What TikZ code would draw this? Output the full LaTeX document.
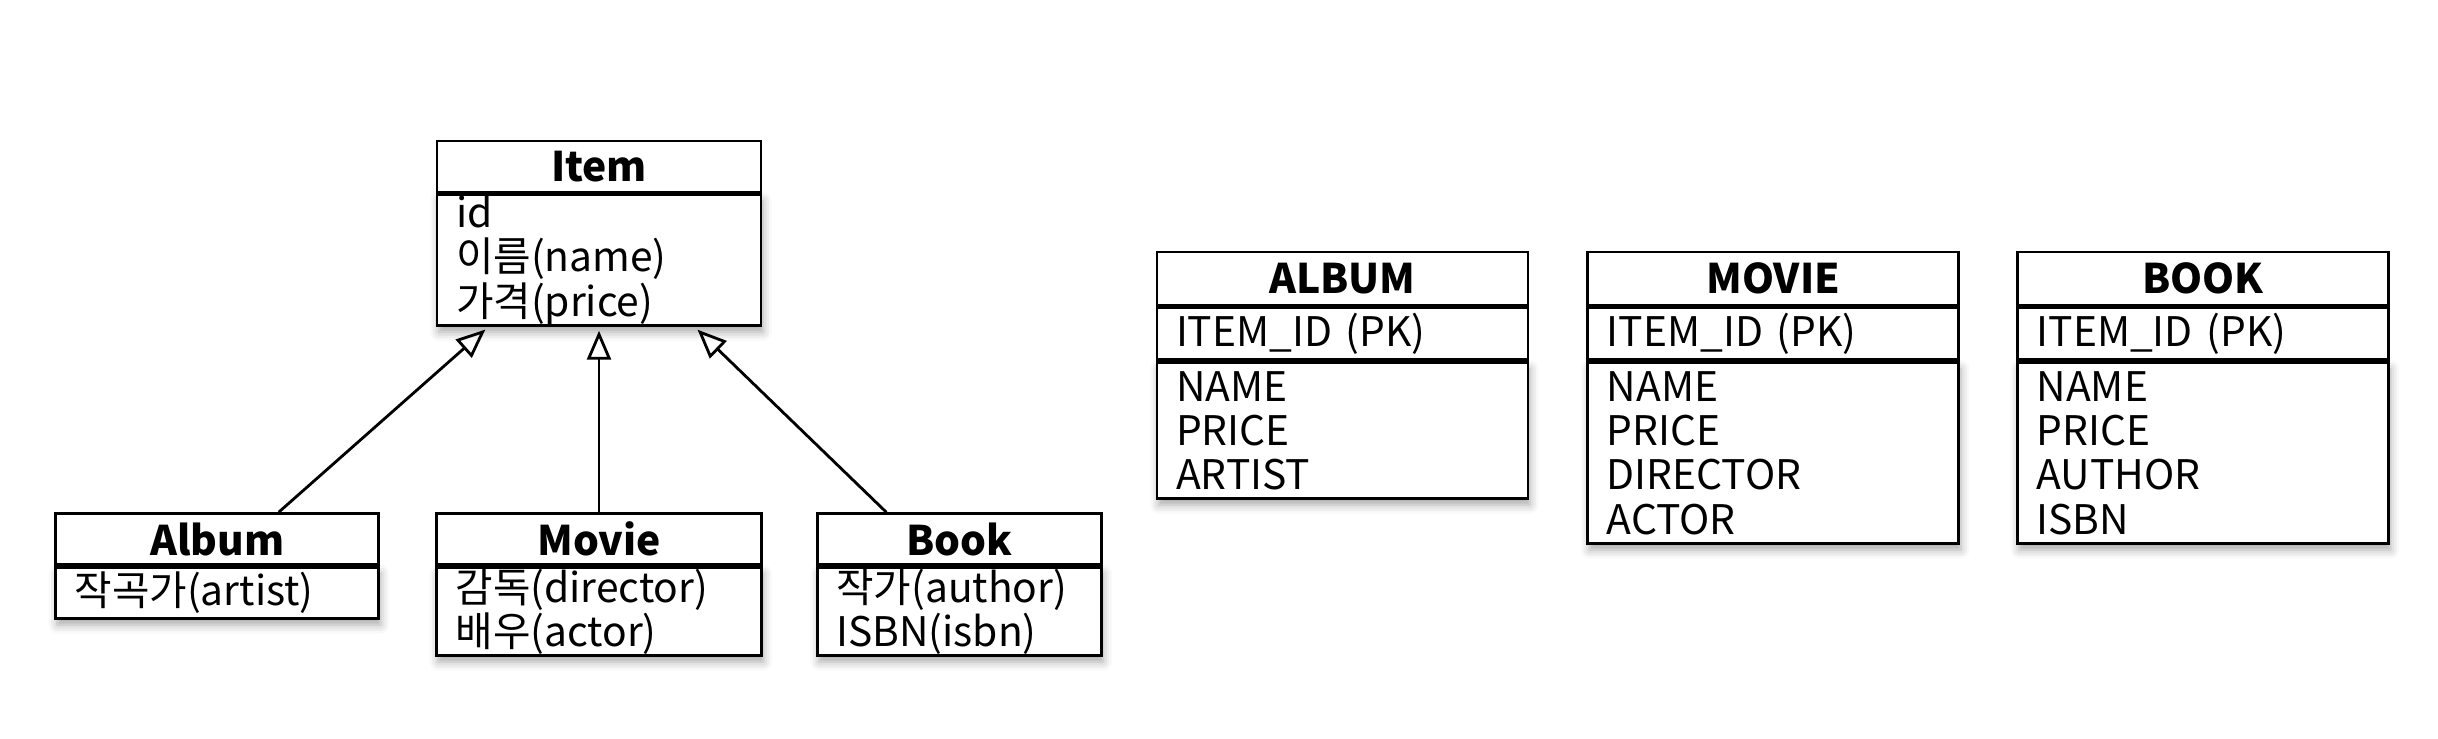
\documentclass[tikz,border=0pt]{standalone}
\usepackage{fontspec}
\setmainfont{Noto Sans CJK KR}
\usetikzlibrary{positioning,arrows.meta,shadows.blur}

\begin{document}
\begin{tikzpicture}[thick,font=\fontsize{11.6pt}{12.6pt}\selectfont]
\tikzstyle{classhead}=[draw=black,fill=white,minimum height=0.51cm,inner sep=0pt,font=\fontsize{11.6pt}{12.6pt}\selectfont\bfseries]
\tikzstyle{classbody}=[draw=black,fill=white,align=left,inner xsep=0.19cm,inner ysep=0pt]
\tikzstyle{tablehead}=[classhead,minimum width=3.71cm,minimum height=0.53cm]
\tikzstyle{tablekey}=[classbody,text width=3.33cm,minimum height=0.52cm]
\tikzstyle{tablebody}=[classbody,text width=3.33cm]
\tikzstyle{boxshadow}=[blur shadow={shadow xshift=0.5pt,shadow yshift=-1.8pt,shadow blur radius=2.5pt,shadow opacity=35}]
\tikzstyle{generalization}=[-{Triangle[open,length=0.29cm,width=0.24cm]},shorten >=1pt]

\useasboundingbox (0,0) rectangle (24.38,7.38);

% class diagram
\node[classhead,minimum width=3.24cm] (item) at (5.99,5.715) {Item};
\node[classbody,boxshadow,text width=2.86cm,minimum height=1.31cm,below=0pt of item] (item-attr) {id\\이름(name)\\가격(price)};

\node[classhead,minimum width=3.25cm,below=1.85cm of item-attr] (movie) {Movie};
\node[classbody,boxshadow,text width=2.87cm,minimum height=0.88cm,below=0pt of movie] (movie-attr) {감독(director)\\배우(actor)};
\node[classhead,minimum width=3.23cm,left=0.55cm of movie] (album) {Album};
\node[classbody,boxshadow,text width=2.85cm,minimum height=0.51cm,below=0pt of album] (album-attr) {작곡가(artist)};
\node[classhead,minimum width=2.84cm,right=0.53cm of movie] (book) {Book};
\node[classbody,boxshadow,text width=2.46cm,minimum height=0.88cm,below=0pt of book] (book-attr) {작가(author)\\ISBN(isbn)};

\path[generalization]
([xshift=0.615cm]album.north) edge ([xshift=-1.11cm]item-attr.south)
(movie.north) edge (item-attr.south)
([xshift=-0.73cm]book.north) edge ([xshift=0.96cm]item-attr.south);

% tables
\node[tablehead] (t-album) at (13.425,4.595) {ALBUM};
\node[tablekey,below=0pt of t-album] (t-album-pk) {ITEM\_ID (PK)};
\node[tablebody,boxshadow,minimum height=1.36cm,below=0pt of t-album-pk] (t-album-col) {NAME\\PRICE\\ARTIST};

\node[tablehead,right=0.57cm of t-album] (t-movie) {MOVIE};
\node[tablekey,below=0pt of t-movie] (t-movie-pk) {ITEM\_ID (PK)};
\node[tablebody,boxshadow,minimum height=1.81cm,below=0pt of t-movie-pk] (t-movie-col) {NAME\\PRICE\\DIRECTOR\\ACTOR};

\node[tablehead,right=0.56cm of t-movie] (t-book) {BOOK};
\node[tablekey,below=0pt of t-book] (t-book-pk) {ITEM\_ID (PK)};
\node[tablebody,boxshadow,minimum height=1.81cm,below=0pt of t-book-pk] (t-book-col) {NAME\\PRICE\\AUTHOR\\ISBN};

\end{tikzpicture}
\end{document}
